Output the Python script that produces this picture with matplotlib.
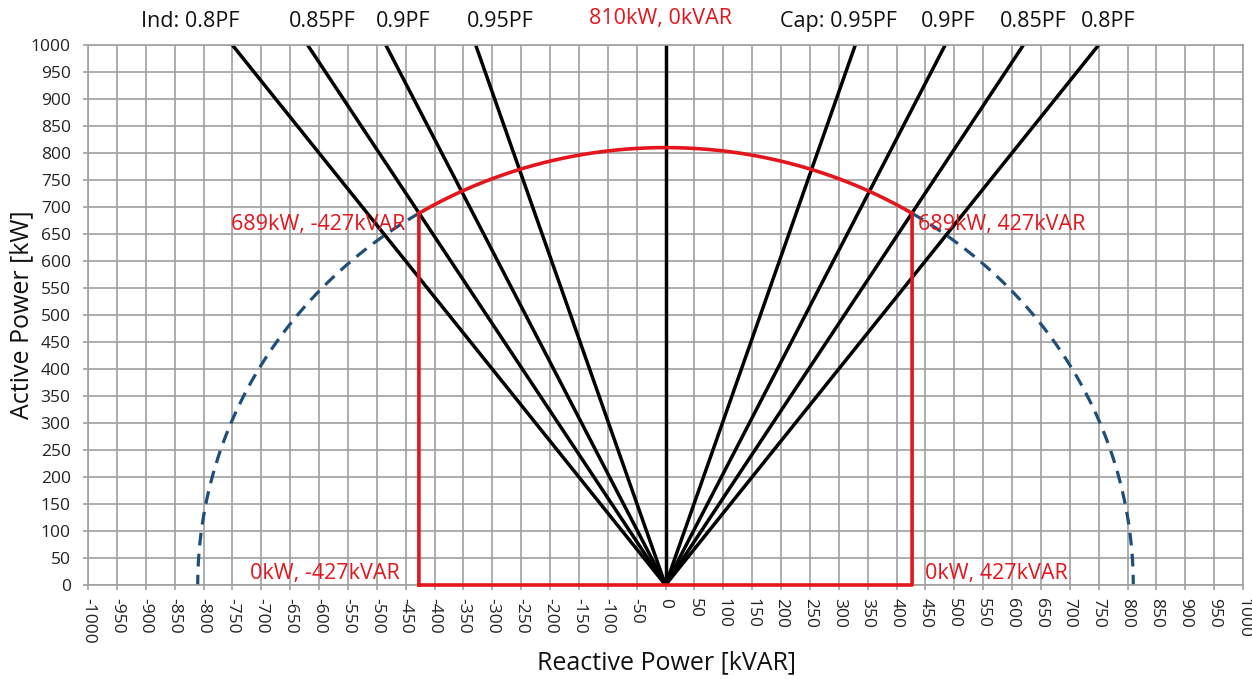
import numpy as np
import matplotlib
matplotlib.use("Agg")
import matplotlib.pyplot as plt

plt.rcParams["font.family"] = ["Open Sans", "DejaVu Sans"]

# capability data
s_rated = 810.0          # kVA
q_limit = 427.0          # kVAR
p_at_limit = 689.0       # kW
pf_values = [0.8, 0.85, 0.9, 0.95]
pf_top_labels = ["Ind: 0.8PF", "0.85PF", "0.9PF", "0.95PF",
                 "Cap: 0.95PF", "0.9PF", "0.85PF", "0.8PF"]
pf_label_x = [-823, -594, -454, -286, 299, 490, 637, 767]
x_ticks = np.arange(-1000, 1001, 50)
y_ticks = np.arange(0, 1001, 50)

RED = "#e3161e"
BLUE = "#1f4e79"
GRID = "#a0a0a0"

fig = plt.figure(figsize=(12.52, 6.79), dpi=100)
ax = fig.add_axes([88 / 1252, 1 - 585 / 679, 1155 / 1252, 540 / 679])
ax.set_xlim(-1000, 1000)
ax.set_ylim(0, 1000)
ax.set_xticks(x_ticks)
ax.set_yticks(y_ticks)
ax.set_xticklabels([str(v) for v in x_ticks], rotation=270, fontsize=12.5)
ax.set_yticklabels([str(v) for v in y_ticks], fontsize=12.5)
ax.tick_params(axis="both", colors=GRID, labelcolor="#222222", length=3.5, width=1.2)
ax.tick_params(axis="x", pad=6)
ax.tick_params(axis="y", pad=9)
ax.grid(True, color=GRID, linewidth=1.2)
ax.set_axisbelow(True)
for sp in ax.spines.values():
    sp.set_color(GRID)
    sp.set_linewidth(1.2)

# power factor lines
p_top = 1000.0
for pf in pf_values:
    q = p_top * np.tan(np.arccos(pf))
    ax.plot([0, -q], [0, p_top], color="black", lw=2.5, solid_capstyle="butt")
    ax.plot([0, q], [0, p_top], color="black", lw=2.5, solid_capstyle="butt")
ax.plot([0, 0], [0, p_top], color="black", lw=2.5)

# dashed apparent power circle outside the limits
th_lim = np.arcsin(q_limit / s_rated)
th_out = np.linspace(th_lim, np.pi / 2, 200)
ax.plot(-s_rated * np.sin(th_out), s_rated * np.cos(th_out), color=BLUE, lw=2.3,
        dashes=(4, 2.6))
ax.plot(s_rated * np.sin(th_out), s_rated * np.cos(th_out), color=BLUE, lw=2.3,
        dashes=(4, 2.6))

# red capability boundary
th_in = np.linspace(-th_lim, th_lim, 200)
arc_q = s_rated * np.sin(th_in)
arc_p = s_rated * np.cos(th_in)
bq = np.concatenate([[-q_limit, -q_limit], arc_q, [q_limit, q_limit, -q_limit]])
bp = np.concatenate([[0, p_at_limit], arc_p, [p_at_limit, 0, 0]])
ax.plot(bq, bp, color=RED, lw=2.6, clip_on=False, zorder=5)

# annotations
fs = 15.5
ax.text(-451, 667, f"{p_at_limit:.0f}kW, -{q_limit:.0f}kVAR", color=RED,
        fontsize=fs, ha="right", va="center", zorder=6)
ax.text(437, 667, f"{p_at_limit:.0f}kW, {q_limit:.0f}kVAR", color=RED,
        fontsize=fs, ha="left", va="center", zorder=6)
ax.text(-460, 22, f"0kW, -{q_limit:.0f}kVAR", color=RED,
        fontsize=fs, ha="right", va="center", zorder=6)
ax.text(449, 22, f"0kW, {q_limit:.0f}kVAR", color=RED,
        fontsize=fs, ha="left", va="center", zorder=6)
ax.text(-8, 1050, f"{s_rated:.0f}kW, 0kVAR", color=RED, fontsize=fs,
        ha="center", va="center", clip_on=False)
for lab, xv in zip(pf_top_labels, pf_label_x):
    ax.text(xv, 1043, lab, color="#111111", fontsize=fs, ha="center", va="center",
            clip_on=False)

fig.text(22 / 1252, 1 - 315 / 679, "Active Power [kW]", rotation=90, fontsize=18,
         ha="center", va="center", color="#111111")
fig.text(667 / 1252, 1 - 663 / 679, "Reactive Power [kVAR]", fontsize=18,
         ha="center", va="center", color="#111111")

fig.savefig("out.png", dpi=100, facecolor="white")
